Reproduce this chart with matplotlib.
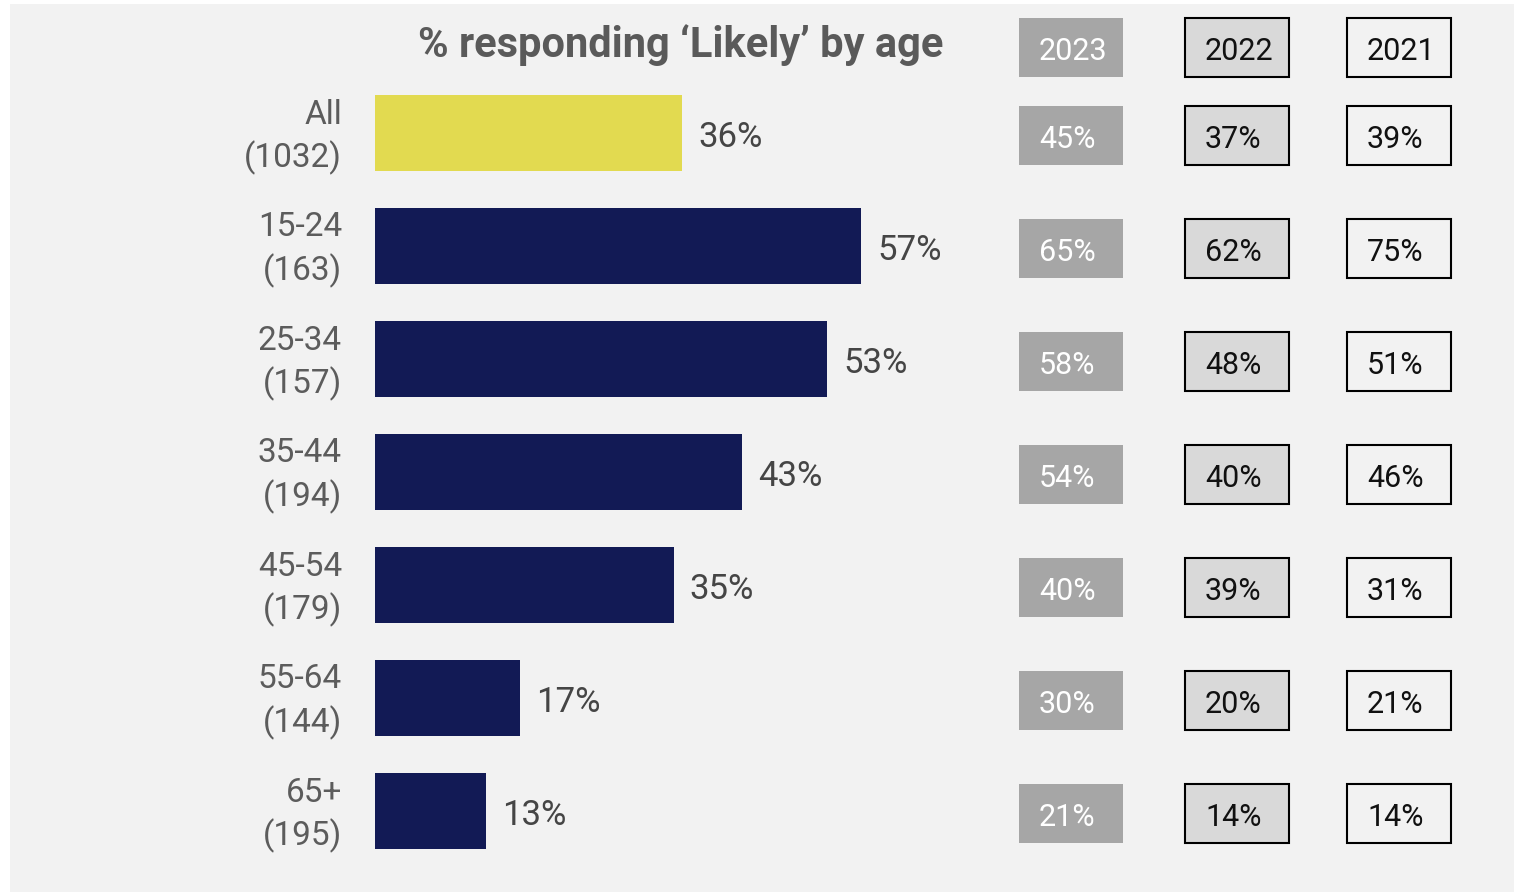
import matplotlib
matplotlib.use("Agg")
import matplotlib.pyplot as plt
from matplotlib.patches import Rectangle

# Survey results: share responding 'Likely', by age group
groups = ["All", "15-24", "25-34", "35-44", "45-54", "55-64", "65+"]
bases = [1032, 163, 157, 194, 179, 144, 195]
pct_current = [36, 57, 53, 43, 35, 17, 13]

# Earlier waves shown as side tables
years = ["2023", "2022", "2021"]
pct_2023 = [45, 65, 58, 54, 40, 30, 21]
pct_2022 = [37, 62, 48, 40, 39, 20, 14]
pct_2021 = [39, 75, 51, 46, 31, 21, 14]
history = [pct_2023, pct_2022, pct_2021]

title = "% responding \u2018Likely\u2019 by age"

# ---- layout (pixel based) ----
W, H = 1514, 894
PX_PER_PCT = 8.53
X0 = 375            # pixel position of 0%
ROW0 = 133          # pixel centre of the first row
ROW_STEP = 113      # pixel distance between rows

def px_x(px):
    return (px - X0) / PX_PER_PCT

def px_h(px):
    return px / ROW_STEP

plt.rcParams["font.family"] = ["Roboto", "DejaVu Sans"]

fig = plt.figure(figsize=(W / 100, H / 100), dpi=100)
fig.patch.set_facecolor("white")

ax = fig.add_axes([0, 0, 1, 1])
ax.set_facecolor("none")
ax.set_xlim(px_x(0), px_x(W))
ax.set_ylim((H - ROW0) / ROW_STEP, -ROW0 / ROW_STEP)
ax.axis("off")

# light grey panel behind everything
ax.add_patch(Rectangle((10 / W, 2 / H), (W - 10) / W, 888 / H,
                       transform=fig.transFigure, facecolor="#f2f2f2",
                       edgecolor="none", zorder=0))

navy = "#121a55"
yellow = "#e2da50"
bar_colors = [yellow] + [navy] * (len(groups) - 1)

rows = list(range(len(groups)))
ax.barh(rows, pct_current, height=px_h(76), left=0, color=bar_colors,
        edgecolor="none", zorder=2)

label_color = "#5c5c5c"
value_color = "#454545"

for i, (g, n, v) in enumerate(zip(groups, bases, pct_current)):
    ax.text(px_x(342), i - px_h(22), g, ha="right", va="center_baseline",
            fontsize=24, color=label_color, zorder=3)
    ax.text(px_x(342), i + px_h(21), f"({n})", ha="right", va="center_baseline",
            fontsize=24, color=label_color, zorder=3)
    ax.text(v + px_x(X0 + 16), i + px_h(1), f"{v}%", ha="left",
            va="center_baseline", fontsize=25, color=value_color, zorder=3)

# title
ax.text(px_x(681), -px_h(ROW0 - 41), title, ha="center", va="center_baseline",
        fontsize=30, fontweight="bold", color="#5a5a5a", zorder=3)

# side tables for previous years
box_left_px = [1019, 1185, 1347]
box_w = 104 / PX_PER_PCT
box_h = px_h(59)
styles = [
    dict(face="#a6a6a6", edge="none", lw=0, text="white"),
    dict(face="#d9d9d9", edge="black", lw=1.5, text="#111111"),
    dict(face="#f2f2f2", edge="black", lw=1.5, text="#111111"),
]
header_y = -px_h(ROW0 - 47.5)

for left_px, year, vals, st in zip(box_left_px, years, history, styles):
    xl = px_x(left_px)
    centers = [header_y] + [i + px_h(2) for i in rows]
    texts = [year] + [f"{v}%" for v in vals]
    for yc, t in zip(centers, texts):
        ax.add_patch(Rectangle((xl, yc - box_h / 2), box_w, box_h,
                               facecolor=st["face"], edgecolor=st["edge"],
                               linewidth=st["lw"], zorder=3))
        ax.text(px_x(left_px + 20), yc + px_h(1.5), t, ha="left",
                va="center_baseline", fontsize=22, color=st["text"], zorder=4)

fig.savefig("out.png", dpi=100, facecolor="white")
